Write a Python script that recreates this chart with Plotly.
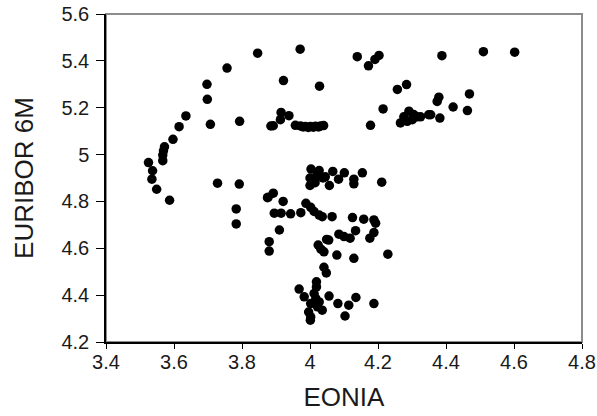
import plotly.graph_objects as go

eonia = [
    3.846, 3.756, 3.697, 3.698, 3.635, 3.615, 3.597, 3.572, 3.569, 3.567, 3.567,
    3.525, 3.537, 3.535, 3.549, 3.707, 3.793, 3.885, 3.728, 3.792, 3.587,
    3.783, 3.783, 3.875, 3.880, 3.880,
    3.971, 4.139, 4.172, 4.191, 4.203, 3.922, 4.028, 4.257, 4.284, 4.215, 4.178, 4.349,
    3.892, 3.915, 3.938, 3.913, 3.957, 3.972, 3.986, 4.001, 4.016, 4.031, 4.040,
    3.980, 3.995, 4.010, 4.025,
    4.003, 4.027, 4.067, 4.101, 4.154, 4.000, 4.038, 4.084, 4.129, 4.000, 4.057, 4.129,
    4.020, 4.045, 4.015,
    4.211,
    3.877, 3.892, 3.921, 3.895, 3.915, 3.943,
    3.973, 3.988, 4.002, 4.012, 4.027, 4.036, 4.065, 4.125, 4.158, 4.188, 4.193,
    3.910, 4.134, 4.085, 4.100, 4.118, 4.188, 4.176, 4.049, 4.055,
    4.024, 4.032, 4.041, 4.079, 4.129, 4.229, 4.041, 4.048, 4.019, 4.019,
    3.968, 3.983, 4.012, 4.017, 4.027, 4.002, 4.022, 4.036, 4.056, 3.996, 4.001, 4.002,
    4.082, 4.114, 4.135, 4.103, 4.188,
    4.388, 4.510, 4.602, 4.469, 4.379, 4.374, 4.421, 4.463, 4.355, 4.382, 4.325,
    4.266, 4.276, 4.291, 4.305, 4.315, 4.301, 4.286,
]

euribor = [
    5.433, 5.369, 5.300, 5.236, 5.165, 5.119, 5.065, 5.033, 5.016, 4.998, 4.974,
    4.966, 4.931, 4.895, 4.852, 5.129, 5.142, 5.122, 4.878, 4.874, 4.805,
    4.768, 4.704, 4.816, 4.628, 4.588,
    5.450, 5.418, 5.379, 5.406, 5.423, 5.316, 5.292, 5.278, 5.299, 5.195, 5.125, 5.170,
    5.123, 5.180, 5.166, 5.149, 5.125, 5.122, 5.120, 5.120, 5.121, 5.122, 5.124,
    5.118, 5.116, 5.117, 5.118,
    4.938, 4.932, 4.928, 4.922, 4.922, 4.900, 4.900, 4.895, 4.895, 4.868, 4.868, 4.875,
    4.910, 4.905, 4.880,
    4.882,
    4.818, 4.835, 4.800, 4.750, 4.750, 4.747,
    4.752, 4.792, 4.775, 4.757, 4.742, 4.735, 4.735, 4.731, 4.724, 4.721, 4.707,
    4.678, 4.675, 4.660, 4.650, 4.643, 4.667, 4.643, 4.638, 4.635,
    4.614, 4.596, 4.585, 4.571, 4.557, 4.575, 4.519, 4.495, 4.457, 4.435,
    4.426, 4.393, 4.407, 4.386, 4.371, 4.364, 4.350, 4.336, 4.396, 4.328, 4.293, 4.307,
    4.364, 4.357, 4.390, 4.311, 4.364,
    5.422, 5.439, 5.437, 5.259, 5.245, 5.227, 5.203, 5.188, 5.170, 5.156, 5.161,
    5.135, 5.161, 5.185, 5.171, 5.161, 5.149, 5.142,
]

x_ticks = [3.4, 3.6, 3.8, 4.0, 4.2, 4.4, 4.6, 4.8]
x_labels = ["3.4", "3.6", "3.8", "4", "4.2", "4.4", "4.6", "4.8"]
y_ticks = [4.2, 4.4, 4.6, 4.8, 5.0, 5.2, 5.4, 5.6]
y_labels = ["4.2", "4.4", "4.6", "4.8", "5", "5.2", "5.4", "5.6"]

fig = go.Figure()
fig.add_trace(go.Scatter(
    x=eonia, y=euribor, mode="markers",
    marker=dict(size=9.5, color="black", line=dict(width=0)),
    showlegend=False, cliponaxis=False,
))

font = "Liberation Sans, Arial, sans-serif"
fig.update_layout(
    width=597, height=416,
    margin=dict(l=106, r=15, t=14, b=74, autoexpand=False),
    paper_bgcolor="white", plot_bgcolor="white",
    font=dict(family=font, color="#1a1a1a", size=20),
    shapes=[dict(type="rect", xref="paper", yref="paper", x0=0, y0=0, x1=1, y1=1,
                 line=dict(color="#8c8c8c", width=2), layer="below")],
    xaxis=dict(
        range=[3.4, 4.8], tickvals=x_ticks, ticktext=x_labels, automargin=False,
        showgrid=False, zeroline=False, showline=True, linecolor="black", linewidth=1.5,
        ticks="outside", ticklen=5, tickwidth=1, tickcolor="black",
        ticklabelstandoff=-4,
        tickfont=dict(size=20, family=font),
        title=dict(text="EONIA", font=dict(size=26, family=font), standoff=16),
    ),
    yaxis=dict(
        range=[4.2, 5.6], tickvals=y_ticks, ticktext=y_labels, automargin=False,
        showgrid=False, zeroline=False, showline=True, linecolor="black", linewidth=1.5,
        ticks="outside", ticklen=8, tickwidth=1, tickcolor="black",
        ticklabelstandoff=3,
        tickfont=dict(size=20, family=font),
        title=dict(text="EURIBOR 6M", font=dict(size=26, family=font), standoff=20),
    ),
)

fig.write_html("out.html")
